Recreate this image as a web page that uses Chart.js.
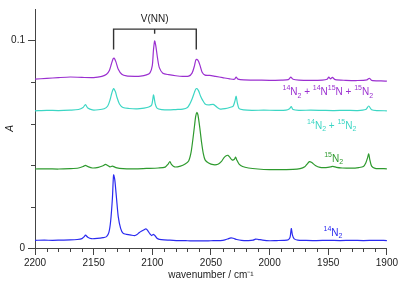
<!DOCTYPE html>
<html>
<head>
<meta charset="utf-8">
<script src="https://cdn.jsdelivr.net/npm/chart.js@4"></script>
<style>
  html, body { margin: 0; padding: 0; background: #fff; }
  #wrap { width: 400px; height: 282px; }
</style>
</head>
<body>
<div id="wrap"><canvas id="spectra"></canvas></div>
<script>
// spectra: wavenumber (cm-1) and absorbance
const n14Wn = [2200, 2192, 2185, 2178, 2170, 2164, 2160, 2158, 2157, 2155, 2152, 2147, 2142, 2139, 2137, 2135.5, 2134, 2133, 2132, 2130.5, 2129, 2127, 2125, 2122, 2118, 2115, 2113, 2111, 2109, 2107, 2105.5, 2104, 2102, 2100.5, 2099, 2097.5, 2096, 2094, 2090, 2085, 2078, 2070, 2060, 2050, 2042, 2038, 2035, 2033, 2031, 2028, 2024, 2018, 2014, 2012, 2010, 2006, 2000, 1994, 1988, 1984, 1982.5, 1981.5, 1980.5, 1979, 1976, 1970, 1960, 1950, 1940, 1930, 1920, 1910, 1900]
const n14A = [0.0037, 0.0038, 0.0037, 0.0038, 0.0039, 0.0041, 0.0045, 0.0055, 0.0062, 0.0052, 0.0045, 0.0046, 0.0050, 0.0055, 0.0075, 0.013, 0.024, 0.0352, 0.033, 0.024, 0.015, 0.0095, 0.0072, 0.0066, 0.0062, 0.006, 0.0065, 0.0075, 0.0082, 0.0088, 0.0092, 0.0085, 0.0068, 0.006, 0.0066, 0.0058, 0.0047, 0.0042, 0.0039, 0.0038, 0.0036, 0.0035, 0.0034, 0.0035, 0.0036, 0.0039, 0.0045, 0.0049, 0.0047, 0.0041, 0.0037, 0.0036, 0.0038, 0.0043, 0.0042, 0.0038, 0.0035, 0.0036, 0.0037, 0.0040, 0.0052, 0.0094, 0.0062, 0.0044, 0.0038, 0.0037, 0.0036, 0.0037, 0.0036, 0.0037, 0.0036, 0.0037, 0.0036]

const n15Wn = [2200, 2190, 2180, 2170, 2163, 2159, 2157, 2155, 2151, 2146, 2142, 2140, 2138, 2136, 2134, 2131, 2125, 2115, 2105, 2095, 2089, 2086.5, 2085, 2083.5, 2081, 2076, 2072, 2069, 2067, 2065.5, 2064, 2063, 2062, 2061, 2059.5, 2058, 2056.5, 2055, 2052, 2048, 2044, 2041, 2039, 2037, 2035.5, 2034, 2032, 2030, 2029, 2028, 2026, 2023, 2018, 2010, 2000, 1990, 1980, 1974, 1970, 1968, 1966, 1964, 1961, 1957, 1952, 1948, 1946, 1943, 1938, 1930, 1924, 1920, 1918, 1916.5, 1915.5, 1914.5, 1913, 1910, 1905, 1900]
const n15A = [0.0381, 0.0382, 0.0381, 0.0383, 0.0386, 0.0393, 0.0399, 0.0393, 0.0386, 0.0389, 0.0397, 0.0403, 0.0398, 0.0391, 0.0395, 0.0388, 0.0383, 0.0382, 0.0384, 0.0386, 0.0390, 0.0405, 0.0417, 0.0402, 0.0391, 0.0395, 0.0405, 0.042, 0.046, 0.052, 0.059, 0.0635, 0.0654, 0.064, 0.058, 0.051, 0.0455, 0.0425, 0.041, 0.0402, 0.0404, 0.0418, 0.0435, 0.0445, 0.0447, 0.0438, 0.0425, 0.0428, 0.0439, 0.0425, 0.0405, 0.0393, 0.0386, 0.0381, 0.0378, 0.0378, 0.0379, 0.0383, 0.0392, 0.0405, 0.0417, 0.0412, 0.0398, 0.0389, 0.0388, 0.0391, 0.0394, 0.0389, 0.0386, 0.0385, 0.0388, 0.0393, 0.041, 0.0435, 0.0454, 0.0425, 0.0395, 0.0384, 0.0383, 0.0382]

const mixWn = [2200, 2190, 2180, 2170, 2163, 2159, 2157, 2155, 2151, 2146, 2141, 2138, 2136, 2134.5, 2133, 2131.5, 2130, 2128, 2125, 2120, 2113, 2107, 2103, 2100.5, 2099, 2098.5, 2097.5, 2096, 2092, 2086, 2080, 2074, 2070, 2068, 2066, 2064, 2063, 2062, 2060.5, 2059, 2057, 2055, 2052, 2048, 2045, 2042, 2038, 2034, 2031, 2029.5, 2028.5, 2027.5, 2026, 2022, 2015, 2005, 1995, 1986, 1983, 1981.5, 1980, 1975, 1965, 1955, 1945, 1935, 1925, 1918, 1915.5, 1913, 1908, 1900]
const mixA = [0.0662, 0.0664, 0.0663, 0.0665, 0.0668, 0.0678, 0.0692, 0.0675, 0.0666, 0.0667, 0.0672, 0.0685, 0.0715, 0.0748, 0.0769, 0.0755, 0.0725, 0.0695, 0.0678, 0.0673, 0.0671, 0.0675, 0.0680, 0.0690, 0.0738, 0.0728, 0.0695, 0.0675, 0.0668, 0.0666, 0.0668, 0.0670, 0.0678, 0.0695, 0.072, 0.0752, 0.0766, 0.0769, 0.0758, 0.0735, 0.0712, 0.0695, 0.069, 0.0693, 0.068, 0.067, 0.0672, 0.0678, 0.0685, 0.071, 0.0732, 0.07, 0.0672, 0.0666, 0.0664, 0.0665, 0.0664, 0.0665, 0.0672, 0.0682, 0.0668, 0.0664, 0.0665, 0.0664, 0.0663, 0.0664, 0.0663, 0.0668, 0.0685, 0.0667, 0.0663, 0.0662]

const scrWn = [2200, 2190, 2180, 2170, 2160, 2150, 2143, 2139, 2136.5, 2135, 2133.5, 2132.5, 2131, 2129, 2126, 2122, 2115, 2110, 2105, 2102, 2100, 2099, 2098, 2097, 2095.5, 2094, 2091, 2086, 2080, 2074, 2069, 2066, 2064, 2063, 2062, 2060.5, 2059, 2057.5, 2055, 2051, 2046, 2040, 2034, 2030, 2028.5, 2027, 2022, 2010, 2000, 1990, 1984, 1982, 1980, 1975, 1965, 1955, 1951, 1949.5, 1948, 1946.5, 1944, 1935, 1925, 1917, 1915, 1913, 1905, 1900]
const scrA = [0.0815, 0.0818, 0.0822, 0.0825, 0.0823, 0.0822, 0.0828, 0.0838, 0.0858, 0.0885, 0.0912, 0.0916, 0.0898, 0.0862, 0.0838, 0.0830, 0.0828, 0.0829, 0.0835, 0.0845, 0.0880, 0.0955, 0.0999, 0.0975, 0.0915, 0.0870, 0.0843, 0.0836, 0.0831, 0.0828, 0.0829, 0.0845, 0.0880, 0.0905, 0.0910, 0.0900, 0.0875, 0.0848, 0.0834, 0.0833, 0.0828, 0.0822, 0.0816, 0.0814, 0.0824, 0.0815, 0.0811, 0.081, 0.0809, 0.081, 0.0812, 0.0824, 0.0814, 0.081, 0.0809, 0.081, 0.0814, 0.0824, 0.0816, 0.0823, 0.0812, 0.0809, 0.0808, 0.0811, 0.0819, 0.0809, 0.0806, 0.0805]

const xMajor = [2200, 2150, 2100, 2050, 2000, 1950, 1900]
const yLabelled = [0, 0.1]
const yMinor = [0.02, 0.04, 0.06, 0.08]

const FONT = "Arial, 'Liberation Sans', sans-serif"
const AXIS = '#444'

function pts(wn, a) {
  return wn.map((w, i) => ({ x: w, y: a[i] }))
}

function serie(wn, a, cor) {
  return {
    data: pts(wn, a),
    borderColor: cor,
    borderWidth: 1.2,
    pointRadius: 0,
    tension: 0.25,
    fill: false
  }
}

// text labels with isotope superscripts / subscripts, anchored in data units
const labels = [
  { wn: 1989, a: 0.0738, cor: '#9b30d0', parts: [['14', 'sup'], ['N'], ['2', 'sub'], [' + '], ['14', 'sup'], ['N'], ['15', 'sup'], ['N'], [' + '], ['15', 'sup'], ['N'], ['2', 'sub']] },
  { wn: 1968, a: 0.0575, cor: '#3cd6c4', parts: [['14', 'sup'], ['N'], ['2', 'sub'], [' + '], ['15', 'sup'], ['N'], ['2', 'sub']] },
  { wn: 1953.5, a: 0.0417, cor: '#2e9a2e', parts: [['15', 'sup'], ['N'], ['2', 'sub']] },
  { wn: 1954, a: 0.006, cor: '#2a2af0', parts: [['14', 'sup'], ['N'], ['2', 'sub']] }
]

const anotacoes = {
  id: 'anotacoes',
  afterDraw(chart) {
    const ctx = chart.ctx
    const x = chart.scales.x
    const y = chart.scales.y
    ctx.save()

    // minor ticks
    ctx.strokeStyle = AXIS
    ctx.lineWidth = 1
    ctx.beginPath()
    for (let v = 1910; v < 2200; v += 10) {
      if (v % 50 === 0) continue
      const px = Math.round(x.getPixelForValue(v)) + 0.5
      ctx.moveTo(px, y.bottom)
      ctx.lineTo(px, y.bottom + 4)
    }
    yMinor.forEach(v => {
      const py = Math.round(y.getPixelForValue(v)) + 0.5
      ctx.moveTo(x.left, py)
      ctx.lineTo(x.left - 4, py)
    })
    ctx.stroke()

    // bracket
    const x1 = x.getPixelForValue(2133), x2 = x.getPixelForValue(2062.5), xm = x.getPixelForValue(2098)
    const yTop = y.getPixelForValue(0.1056), yLow = y.getPixelForValue(0.0958), yMid = y.getPixelForValue(0.1033)
    ctx.strokeStyle = '#333'
    ctx.lineWidth = 1.4
    ctx.beginPath()
    ctx.moveTo(x1, yLow)
    ctx.lineTo(x1, yTop)
    ctx.lineTo(x2, yTop)
    ctx.lineTo(x2, yLow)
    ctx.moveTo(xm, yTop)
    ctx.lineTo(xm, yMid)
    ctx.stroke()
    ctx.fillStyle = '#222'
    ctx.font = '10px ' + FONT
    ctx.textAlign = 'center'
    ctx.textBaseline = 'alphabetic'
    ctx.fillText('V(NN)', xm, y.getPixelForValue(0.1091))

    // series labels
    ctx.textAlign = 'left'
    labels.forEach(l => {
      let px = x.getPixelForValue(l.wn)
      const py = y.getPixelForValue(l.a)
      ctx.fillStyle = l.cor
      l.parts.forEach(([t, s]) => {
        let dy = 0
        if (s === 'sup') { ctx.font = '7px ' + FONT; dy = -5 }
        else if (s === 'sub') { ctx.font = '7px ' + FONT; dy = 2.5 }
        else ctx.font = '10px ' + FONT
        ctx.fillText(t, px, py + dy)
        px += ctx.measureText(t).width
      })
    })
    ctx.restore()
  }
}

const chart = new Chart(document.getElementById('spectra'), {
  type: 'line',
  data: {
    datasets: [
      serie(n14Wn, n14A, '#2a2af0'),
      serie(n15Wn, n15A, '#2e9a2e'),
      serie(mixWn, mixA, '#3cd6c4'),
      serie(scrWn, scrA, '#9b30d0')
    ]
  },
  options: {
    responsive: true,
    maintainAspectRatio: false,
    animation: false,
    layout: { padding: { top: 1, right: 12, left: 0, bottom: 0 } },
    plugins: {
      legend: { display: false },
      tooltip: { enabled: false }
    },
    scales: {
      x: {
        type: 'linear',
        reverse: true,
        min: 1900,
        max: 2200,
        afterBuildTicks: s => { s.ticks = xMajor.map(v => ({ value: v })) },
        afterFit: s => { s.height = 34 },
        border: { color: AXIS, width: 1 },
        grid: { drawOnChartArea: false, tickLength: 7, color: AXIS },
        ticks: {
          color: '#222',
          font: { family: FONT, size: 10 },
          padding: 2,
          maxRotation: 0,
          callback: v => String(v)
        },
        title: {
          display: true,
          text: 'wavenumber / cm⁻¹',
          color: '#222',
          font: { family: FONT, size: 10 },
          padding: { top: 0, bottom: 1 }
        }
      },
      y: {
        min: 0,
        max: 0.1153,
        afterBuildTicks: s => { s.ticks = yLabelled.map(v => ({ value: v })) },
        afterFit: s => { s.width = 35 },
        border: { color: AXIS, width: 1 },
        grid: { drawOnChartArea: false, tickLength: 7, color: AXIS },
        ticks: {
          color: '#222',
          font: { family: FONT, size: 10 },
          padding: 3,
          callback: v => (v === 0 ? '0' : '0.1')
        },
        title: {
          display: true,
          text: 'A',
          color: '#222',
          font: { family: FONT, size: 10, style: 'italic' },
          padding: { top: 4, bottom: 0 }
        }
      }
    }
  },
  plugins: [anotacoes]
})
</script>
</body>
</html>
